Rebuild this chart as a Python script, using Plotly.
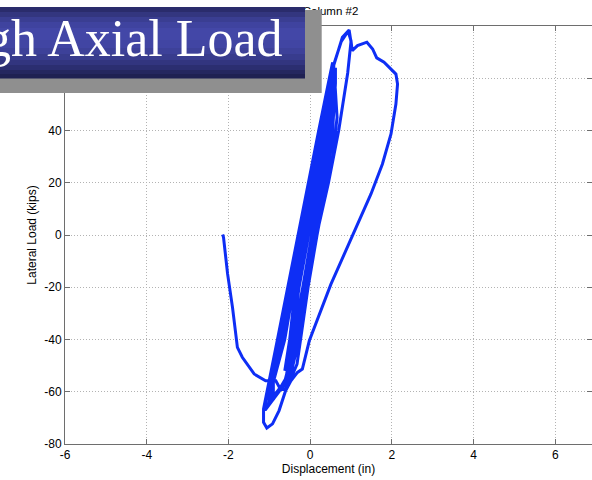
import plotly.graph_objects as go

# ---- data ----
disp = [
    0.00, 0.22, 0.40, 0.48,
    0.42, 0.28, 0.04, -0.18, -0.40, -0.50,
    -0.45, -0.30, -0.08, 0.16, 0.36, 0.50,
    0.47, 0.32, 0.08, -0.14, -0.38, -0.62,
    -0.58, -0.50, -0.36, -0.13, 0.10, 0.32, 0.48, 0.55,
    0.54, 0.50, 0.36, 0.11, -0.10, -0.33, -0.60, -0.90,
    -0.90, -0.72, -0.45, -0.20, 0.05, 0.28, 0.45, 0.56,
    0.56, 0.52, 0.38, 0.13, -0.09, -0.31, -0.58, -1.02,
    -0.95, -0.66, -0.42, -0.17, 0.08, 0.30, 0.47, 0.57,
    0.58, 0.55, 0.40, 0.15, -0.05, -0.27, -0.50, -0.98,
    -0.93, -0.62, -0.40, -0.16, 0.10, 0.33, 0.50, 0.58,
    0.57, 0.53, 0.39, 0.12, -0.11, -0.36, -0.62, -1.00,
    -1.05, -0.78, -0.50, -0.25, 0.00, 0.24, 0.48, 0.79, 0.955, 1.00,
    0.92, 0.85, 0.70, 0.45, 0.16, -0.07, -0.28, -0.52, -1.10,
    -1.08, -0.80, -0.52, -0.27, -0.02, 0.22, 0.47, 0.76, 0.93, 1.00, 1.03,
    1.16, 1.39, 1.53, 1.63, 1.81, 2.10, 2.14, 2.10, 1.98, 1.77, 1.49, 1.16,
    0.51, -0.02, -0.19, -0.31, -0.47, -0.60, -0.76, -0.92, -1.06, -1.14, -1.13,
    -1.14, -0.80, -0.55, -0.30, -0.04, 0.21, 0.47, 0.55,
    0.60, 0.66, 0.55, 0.35, 0.17, -0.05, -0.32, -0.50,
    -0.60, -0.55, -0.45, -0.27, -0.04, 0.20, 0.40, 0.55, 0.62,
    0.62, 0.55, 0.40, 0.14, -0.10, -0.34, -0.55, -0.60,
    -0.72, -0.80, -0.84, -1.09, -1.37, -1.66, -1.78, -1.90, -2.02, -2.12, -2.14,
]
load = [
    0.0, 20, 40, 50,
    40, 20, 0, -20, -38, -44,
    -40, -20, 0, 20, 40, 56,
    40, 20, 0, -20, -40, -52,
    -48, -40, -20, 0, 20, 40, 60, 65,
    58, 40, 20, 0, -20, -40, -55, -63,
    -56, -40, -20, 0, 20, 40, 58, 66,
    58, 40, 20, 0, -20, -40, -56, -65,
    -55, -40, -20, 0, 20, 40, 58, 64,
    58, 40, 20, 0, -20, -40, -55, -64,
    -58, -40, -20, 0, 20, 40, 58, 65,
    56, 40, 20, 0, -20, -40, -56, -64,
    -60, -40, -20, 0, 20, 40, 60, 75.7, 78.5, 74,
    62, 55, 40, 20, 0, -20, -40, -55, -67,
    -62, -40, -20, 0, 20, 40, 60, 74, 78, 74.4, 70.6,
    72.5, 73.8, 71.2, 67.8, 66.1, 61.6, 57.8, 50.1, 38.7, 27.2, 15.7, 4.2,
    -18.8, -40.5, -51.3, -52.6, -55.8, -59.6, -67.2, -72.3, -73.9, -71.7, -67.9,
    -66.6, -40, -20, 0, 20, 40, 60, 66,
    60, 45, 30, 15, 0, -20, -49.4, -56,
    -56, -50, -40, -20, 0, 20, 40, 58, 64,
    58, 40, 20, 0, -20, -40, -55, -59,
    -59.2, -56.5, -55.8, -55.8, -53.2, -46.8, -43.0, -27.7, -14.9, -0.9, 0.2,
]

x_ticks = [-6, -4, -2, 0, 2, 4, 6]
x_tick_labels = ["-6", "-4", "-2", "0", "2", "4", "6"]
y_ticks = [-80, -60, -40, -20, 0, 20, 40, 60, 80]
y_tick_labels = ["-80", "-60", "-40", "-20", "0", "20", "40", "60", "80"]

title_text = "Column #2"
banner_text = "High Axial Load"
x_title = "Displacement (in)"
y_title = "Lateral Load (kips)"

# ---- layout geometry (pixels) ----
W, H = 592, 480
ML, MR, MT, MB = 65, 0, 0, 36
PLOT_TOP = 26
PW = W - ML - MR
PH = H - MT - MB  # paper height (0 .. 444 px)


def pxx(xp):
    return (xp - ML) / PW


def pyy(yp):
    return (H - MB - yp) / PH


FONT = "Liberation Sans, Arial, Helvetica, sans-serif"
AX = "#6e6e6e"
GRID = "#b3b3b3"

fig = go.Figure()
fig.add_trace(go.Scatter(
    x=disp, y=load, mode="lines",
    line=dict(color="rgb(14,46,245)", width=3),
    hoverinfo="skip", showlegend=False, xaxis="x", yaxis="y",
))
# title drawn as text on an invisible full-paper overlay so the banner can cover it
fig.add_trace(go.Scatter(
    x=[330.5], y=[12.5], mode="text", text=[title_text],
    textfont=dict(family=FONT, size=11.5, color="black"),
    hoverinfo="skip", showlegend=False, xaxis="x2", yaxis="y2",
))

shapes = []
# gray drop shadow
shapes.append(dict(type="rect", xref="paper", yref="paper",
                   x0=pxx(-5), x1=pxx(321.7), y0=pyy(93), y1=pyy(10),
                   fillcolor="#8f8f8f", line=dict(width=0), layer="above"))
# blue gradient banner (horizontal strips)
strips = [
    (7, 12, "#2a2c6c"), (12, 17, "#33367f"), (17, 22, "#3a3e92"),
    (22, 28, "#3f439f"), (28, 40, "#4347a7"), (40, 48, "#4145a3"),
    (48, 54, "#3d4199"), (54, 60, "#383c8d"), (60, 65, "#32357f"),
    (65, 70, "#2b2e70"), (70, 74, "#25275f"), (74, 78.5, "#1f2152"),
]
for y0, y1, c in strips:
    shapes.append(dict(type="rect", xref="paper", yref="paper",
                       x0=pxx(-5), x1=pxx(305), y0=pyy(y1), y1=pyy(y0),
                       fillcolor=c, line=dict(width=0), layer="above"))

axis_common = dict(
    showgrid=True, gridcolor=GRID, griddash="1px,2px", gridwidth=1,
    zeroline=False, showline=True, linecolor=AX, linewidth=1, mirror="ticks",
    ticks="inside", ticklen=5, tickcolor=AX, automargin=False,
    tickfont=dict(family=FONT, size=12, color="black"),
)

fig.update_layout(
    width=W, height=H,
    margin=dict(l=ML, r=MR, t=MT, b=MB, pad=0, autoexpand=False),
    paper_bgcolor="white", plot_bgcolor="rgba(0,0,0,0)",
    showlegend=False,
    shapes=shapes,
    annotations=[dict(
        text=banner_text, xref="paper", yref="paper",
        x=pxx(285), y=pyy(38), xanchor="right", yanchor="middle",
        showarrow=False,
        font=dict(family="Liberation Serif, Times New Roman, serif", size=52, color="white"),
    )],
    xaxis=dict(
        range=[-6, 6.9], tickvals=x_ticks, ticktext=x_tick_labels,
        domain=[0, 1], anchor="y",
        title=dict(text=x_title, font=dict(family=FONT, size=12, color="black"), standoff=3),
        **axis_common,
    ),
    yaxis=dict(
        range=[-80, 80], tickvals=y_ticks, ticktext=y_tick_labels,
        domain=[0, (H - MB - PLOT_TOP) / PH], anchor="x",
        title=dict(text=y_title, font=dict(family=FONT, size=12, color="black"), standoff=5),
        **axis_common,
    ),
    xaxis2=dict(range=[ML, W], domain=[0, 1], anchor="y2", visible=False, fixedrange=True),
    yaxis2=dict(range=[H - MB, 0], domain=[0, 1], anchor="x2", visible=False, fixedrange=True),
)

fig.write_html("out.html")
